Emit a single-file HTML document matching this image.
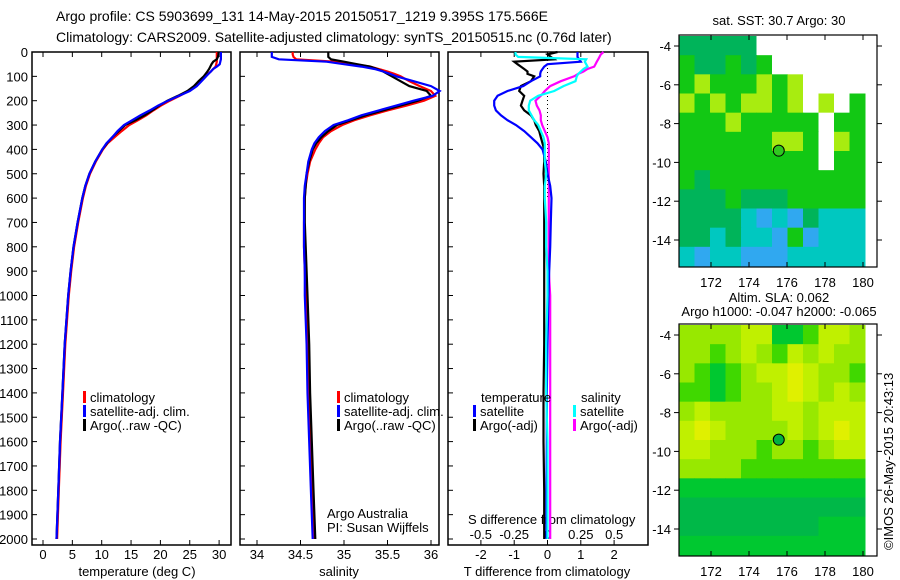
<!DOCTYPE html>
<html><head><meta charset="utf-8"><style>
html,body{margin:0;padding:0;background:#fff;}
svg{display:block;font-family:"Liberation Sans",sans-serif;}
text{fill:#000;}
</style></head><body>
<svg id="s" width="900" height="580" viewBox="0 0 900 580" xmlns="http://www.w3.org/2000/svg">
<text x="56" y="21" font-size="14">Argo profile: CS 5903699_131 14-May-2015 20150517_1219 9.395S 175.566E</text>
<text x="56" y="42" font-size="14">Climatology: CARS2009. Satellite-adjusted climatology: synTS_20150515.nc (0.76d later)</text>
<text x="779" y="25" font-size="13" text-anchor="middle">sat. SST: 30.7 Argo: 30</text>
<text x="779" y="302" font-size="13" text-anchor="middle">Altim. SLA: 0.062</text>
<text x="779" y="316" font-size="13" text-anchor="middle">Argo h1000: -0.047 h2000: -0.065</text>
<text x="0" y="0" font-size="13" transform="translate(893,550) rotate(-90)">©IMOS 26-May-2015 20:43:13</text>
<text x="327" y="518" font-size="13">Argo Australia</text>
<text x="327" y="532" font-size="13">PI: Susan Wijffels</text>
<text x="468" y="524" font-size="13">S difference from climatology</text>
<text x="137" y="576" font-size="13" text-anchor="middle">temperature (deg C)</text>
<text x="339" y="576" font-size="13" text-anchor="middle">salinity</text>
<text x="547" y="576" font-size="13" text-anchor="middle">T difference from climatology</text>
</svg>
<script>
// ---- data ----
const depths=[0,10,20,30,40,50,60,70,80,90,100,120,140,160,180,200,220,240,260,280,300,325,350,375,400,450,500,550,600,700,800,900,1000,1200,1400,1600,1800,2000];
const tempClim=[29.6,29.6,29.6,29.6,29.6,29.5,29.4,29.0,28.6,28.1,27.6,26.8,26.0,24.8,23.3,21.6,20.1,18.8,17.6,16.2,14.7,13.4,12.2,11.0,10.2,9.0,8.0,7.3,6.8,6.0,5.3,4.8,4.4,3.8,3.4,3.0,2.7,2.4];
const tempSat=[30.3,30.3,30.3,30.3,30.2,30.1,29.6,29.0,28.6,28.2,27.8,27.0,26.2,25.0,23.2,21.3,19.6,18.2,16.6,15.2,13.8,12.7,11.8,10.8,10.1,8.9,7.9,7.2,6.7,5.9,5.2,4.7,4.3,3.7,3.3,2.9,2.6,2.3];
const tempArgo=[29.9,29.9,29.8,29.6,29.0,28.7,28.5,28.3,28.0,27.7,27.4,26.5,25.7,24.6,23.0,21.2,19.8,18.6,17.3,15.8,14.0,12.9,11.8,10.9,10.1,8.9,7.9,7.2,6.7,5.9,5.2,4.7,4.3,3.7,3.3,2.9,2.6,2.3];
const salClim=[34.41,34.41,34.42,34.45,34.9,35.1,35.3,35.4,35.5,35.58,35.65,35.75,35.87,36.0,36.05,35.92,35.72,35.5,35.3,35.12,34.98,34.85,34.76,34.71,34.67,34.61,34.58,34.56,34.55,34.54,34.54,34.55,34.56,34.58,34.6,34.62,34.64,34.66];
const salSat=[34.17,34.17,34.17,34.25,34.8,35.0,35.2,35.35,35.45,35.53,35.6,35.8,36.0,36.1,36.02,35.8,35.6,35.4,35.2,35.05,34.88,34.78,34.71,34.66,34.63,34.59,34.57,34.55,34.54,34.54,34.54,34.55,34.55,34.57,34.58,34.6,34.62,34.64];
const salArgo=[34.82,34.82,34.82,34.85,35.0,35.15,35.3,35.38,35.45,35.5,35.55,35.65,35.75,35.95,36.0,35.85,35.65,35.45,35.25,35.08,34.92,34.82,34.74,34.68,34.64,34.6,34.57,34.56,34.55,34.55,34.56,34.57,34.58,34.6,34.61,34.63,34.65,34.67];
const tDiffSat=[0.9,0.9,0.9,0.95,1.0,0.0,-0.1,-0.15,-0.2,-0.22,-0.22,-0.5,-0.73,-1.2,-1.5,-1.6,-1.6,-1.55,-1.4,-1.2,-0.95,-0.7,-0.5,-0.3,-0.15,-0.05,0.0,0.08,0.12,0.1,0.08,0.05,0.03,0.0,-0.02,-0.02,-0.03,-0.03];
const tDiffArgo=[0.3,0.0,0.1,0.2,-1.0,-0.9,-0.8,-0.7,-0.6,-0.6,-0.4,-0.5,-0.8,-0.85,-0.7,-0.75,-0.8,-0.7,-0.5,-0.4,-0.35,-0.25,-0.2,-0.15,-0.1,-0.1,-0.12,-0.1,-0.1,-0.1,-0.1,-0.1,-0.1,-0.1,-0.12,-0.12,-0.1,-0.1];
const sDiffSat=[-0.24,-0.24,-0.22,0.29,0.28,0.29,0.3,0.27,0.25,0.23,0.22,0.21,0.12,0.05,-0.07,-0.13,-0.14,-0.14,-0.12,-0.1,-0.07,-0.05,-0.03,-0.02,-0.02,-0.02,-0.01,-0.02,-0.02,-0.01,-0.01,0,0,-0.01,-0.01,0,0,0];
const sDiffArgo=[0.42,0.4,0.39,0.38,0.37,0.36,0.35,0.3,0.27,0.23,0.2,0.1,0.02,-0.02,-0.05,-0.09,-0.08,-0.06,-0.05,-0.05,-0.04,-0.02,0.0,0.01,0.01,0.01,0.01,0.01,0.01,0.01,0.01,0.01,0.02,0.02,0.02,0.02,0.02,0.02];
const depthTicks=[0,100,200,300,400,500,600,700,800,900,1000,1100,1200,1300,1400,1500,1600,1700,1800,1900,2000];
const tempTicks=[0,5,10,15,20,25,30];
const salTicks=[34,34.5,35,35.5,36];
const salTickLabels=["34","34.5","35","35.5","36"];
const tDiffTicks=[-2,-1,0,1,2];
const sDiffTicks=[-0.5,-0.25,0,0.25,0.5];
const sDiffTickLabels=["-0.5","-0.25","0","0.25","0.5"];
const lonTicks=[172,174,176,178,180];
const latTicks=[-4,-6,-8,-10,-12,-14];
const argoLon=175.566, argoLat=-9.395;
// SST map colour classes, rows north->south (12 x 12)
const sstGrid=[
[3,3,3,3,3,0,0,0,0,0,0,0],
[1,3,3,1,3,1,0,0,0,0,0,0],
[1,2,1,1,1,2,1,2,0,0,0,0],
[2,1,2,1,2,2,1,2,0,2,0,1],
[1,1,1,2,1,1,1,1,1,0,1,1],
[1,1,1,1,1,1,2,2,1,0,2,1],
[1,1,1,1,1,1,1,1,1,0,1,1],
[1,3,1,1,1,1,1,1,1,1,1,1],
[3,3,3,1,3,3,3,1,1,1,1,1],
[3,3,3,3,4,5,4,5,3,4,4,4],
[3,3,4,3,4,4,5,1,5,4,4,4],
[4,5,4,4,5,5,5,4,4,4,4,4]];
const sstColors=["#ffffff","#12c814","#a8ec10","#00b45a","#00c8c0","#30a8f0","#0020a0"];
// SLA map levels (12 x 12)
const slaGrid=[
[3,3,3,3,4,4,1,1,2,4,4,3],
[3,3,2,3,4,3,2,4,3,4,3,3],
[3,2,1,2,3,4,4,5,4,3,3,2],
[2,2,1,2,3,3,4,5,4,3,4,3],
[3,4,3,3,3,3,4,4,3,4,4,4],
[4,5,4,3,3,3,3,4,3,4,5,4],
[4,4,3,3,3,2,3,3,2,3,4,4],
[3,3,3,3,2,2,2,2,2,2,2,2],
[1,1,1,1,1,1,1,1,1,1,1,1],
[0,0,0,0,0,0,0,0,0,0,0,0],
[0,0,0,0,0,0,0,0,0,1,1,1],
[1,1,1,1,1,1,1,1,1,1,1,1]];
const slaColors=["#00b848","#00c830","#40d800","#98e800","#c0f000","#e0f000"];

const NS="http://www.w3.org/2000/svg";
const svg=document.getElementById('s');
function mk(tag,attrs,parent){const e=document.createElementNS(NS,tag);for(const k in attrs)e.setAttribute(k,attrs[k]);(parent||svg).appendChild(e);return e;}
const yD=d=>52+0.2435*d;
const PT=52,PB=545;

function panel(name,x0,x1,xf,ticks,labels,data,cols,labelY){
  const g=mk('g',{});
  
  
  const frame=mk('rect',{x:x0,y:PT,width:x1-x0,height:PB-PT,fill:'none',stroke:'#000','stroke-width':1.5},g);
  
  
  depthTicks.forEach(d=>{
    mk('line',{x1:x0,x2:x0+5,y1:yD(d),y2:yD(d),stroke:'#000'},g);
  });
  ticks.forEach((t,i)=>{
    const x=xf(t);
    mk('line',{x1:x,x2:x,y1:PT,y2:PT+5,stroke:'#000'},g);
    mk('line',{x1:x,x2:x,y1:PB,y2:PB-5,stroke:'#000'},g);
    if(labels){const tx=mk('text',{x:x,y:labelY,'font-size':13,'text-anchor':'middle'},g);tx.textContent=labels[i];
      
      }
  });
  data.forEach((arr,k)=>{
    const pts=arr.map((v,i)=>xf(v).toFixed(1)+','+yD(depths[i]).toFixed(1)).join(' ');
    const pl=mk('polyline',{points:pts,fill:'none',stroke:cols[k],'stroke-width':2.2,'stroke-linejoin':'miter'},g);
    
    
  });
  return g;
}
depthTicks.forEach(d=>{const t=mk('text',{x:28,y:yD(d)+5,'font-size':13,'text-anchor':'end'});t.textContent=d;
  
  });
const xT=v=>43+5.87*v, xS=v=>257+87*(v-34), xTd=v=>547.5+33.3*v, xSd=v=>547.5+133.3*v;
panel('temperature-panel',32,231,xT,tempTicks,tempTicks.map(String),[tempClim,tempArgo,tempSat],['#f00','#000','#00f'],559);
panel('salinity-panel',240,439,xS,salTicks,salTickLabels,[salClim,salArgo,salSat],['#f00','#000','#00f'],559);
const p3=panel('difference-panel',448,648,xTd,tDiffTicks,tDiffTicks.map(String),[],[],559);
mk('line',{x1:547.5,x2:547.5,y1:PT,y2:yD(600),stroke:'#000','stroke-dasharray':'1,3'},p3);
sDiffTickLabels.forEach((l,i)=>{const t=mk('text',{x:xSd(sDiffTicks[i]),y:539,'font-size':13,'text-anchor':'middle'},p3);t.textContent=l;
  
  });
[[tDiffArgo,xTd,'#000'],[sDiffArgo,xSd,'#f0f'],[tDiffSat,xTd,'#00f'],[sDiffSat,xSd,'#0ff']].forEach(([arr,f,c],k)=>{
  const pts=arr.map((v,i)=>f(v).toFixed(1)+','+yD(depths[i]).toFixed(1)).join(' ');
  const pl=mk('polyline',{points:pts,fill:'none',stroke:c,'stroke-width':2.2},p3);
  
  
});
function legend(x,y,color,label){
  const r=mk('rect',{x:x,y:y-11,width:3,height:12,fill:color});
  
  
  const t=mk('text',{x:x+7,y:y,'font-size':13});t.textContent=label;
  
  
}
[[83,'#f00','climatology'],[83,'#00f','satellite-adj. clim.'],[83,'#000','Argo(..raw -QC)']].forEach((e,i)=>legend(e[0],402+i*14,e[1],e[2]));
[[337,'#f00','climatology'],[337,'#00f','satellite-adj. clim.'],[337,'#000','Argo(..raw -QC)']].forEach((e,i)=>legend(e[0],402+i*14,e[1],e[2]));
{const t=mk('text',{x:481,y:402,'font-size':13});t.textContent='temperature';


const t2=mk('text',{x:581,y:402,'font-size':13});t2.textContent='salinity';

}
legend(473,416,'#00f','satellite');legend(473,430,'#000','Argo(-adj)');
legend(573,416,'#0ff','satellite');legend(573,430,'#f0f','Argo(-adj)');

function map(name,top,grid,colors){
  const g=mk('g',{});
  
  
  const lonX=l=>711+(l-172)*19, latY=l=>top+11+(-4-l)*19.4;
  const x0=679,x1=865,y0=top+1,y1=top+231;
  const cw=(x1-x0)/12,ch=(y1-y0)/12;
  grid.forEach((row,r)=>row.forEach((v,c)=>{
    const cell=mk('rect',{x:(x0+c*cw).toFixed(2),y:(y0+r*ch).toFixed(2),width:(cw+0.5).toFixed(2),height:(ch+0.5).toFixed(2),fill:colors[v]},g);
    
    
  }));
  const f=mk('rect',{x:679,y:top,width:198,height:232,fill:'none',stroke:'#000','stroke-width':1.2},g);
  
  
  lonTicks.forEach(l=>{const x=lonX(l);
    mk('line',{x1:x,x2:x,y1:top,y2:top+5,stroke:'#000'},g);
    mk('line',{x1:x,x2:x,y1:top+232,y2:top+227,stroke:'#000'},g);
    const t=mk('text',{x:x,y:top+252,'font-size':13,'text-anchor':'middle'},g);t.textContent=l;
    
    });
  latTicks.forEach(l=>{const y=latY(l);
    mk('line',{x1:679,x2:674,y1:y,y2:y,stroke:'#000'},g);
    mk('line',{x1:877,x2:882,y1:y,y2:y,stroke:'#000'},g);
    const t=mk('text',{x:671,y:y+5,'font-size':13,'text-anchor':'end'},g);t.textContent=l;
    
    });
  const c=mk('circle',{cx:lonX(argoLon),cy:latY(argoLat),r:5.5,fill:name==='sst-map'?'#30c820':'#00b040',stroke:'#000','stroke-width':1},g);
  
  
}
map('sst-map',35,sstGrid,sstColors);
map('sla-map',324,slaGrid,slaColors);
</script>
</body></html>
